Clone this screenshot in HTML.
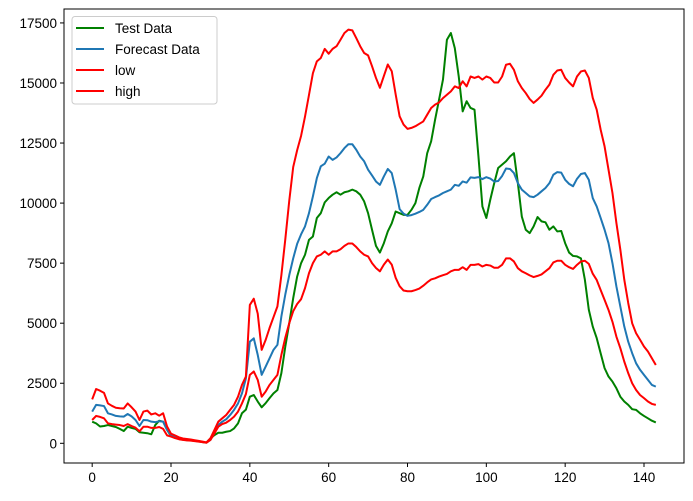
<!DOCTYPE html>
<html><head><meta charset="utf-8"><style>
html,body{margin:0;padding:0;background:#fff;}
svg text{font-family:"Liberation Sans","DejaVu Sans",sans-serif;font-size:13.5px;fill:#000;}
</style></head><body>
<svg id="chart" width="693" height="496" viewBox="0 0 693 496" xmlns="http://www.w3.org/2000/svg">
<rect width="693" height="496" fill="#fff"/>
<g id="lines"></g>
<g id="axes"></g>
<g id="legend">
<rect x="72" y="16.5" width="145" height="87.5" rx="3" fill="#fff" fill-opacity="0.8" stroke="#ccc"/>
<line x1="76" y1="28" x2="104" y2="28" stroke="green" stroke-width="2"/>
<text x="115" y="33">Test Data</text>
<line x1="76" y1="49" x2="104" y2="49" stroke="#1f77b4" stroke-width="2"/>
<text x="115" y="54">Forecast Data</text>
<line x1="76" y1="70" x2="104" y2="70" stroke="red" stroke-width="2"/>
<text x="115" y="75">low</text>
<line x1="76" y1="91" x2="104" y2="91" stroke="red" stroke-width="2"/>
<text x="115" y="96">high</text>
</g>
</svg>
<script>
const testData = [900,830,700,720,760,720,680,600,510,690,
640,600,460,440,420,375,760,940,900,560,
300,230,180,150,130,120,100,80,50,30,
200,340,440,440,480,510,620,830,1250,1400,
1940,2010,1740,1500,1670,1880,2080,2220,2920,4030,
5000,6040,6940,7500,7850,8470,8610,9380,9580,10030,
10210,10350,10450,10350,10450,10490,10560,10490,10350,10070,
9580,8890,8220,7940,8330,8820,9160,9650,9580,9510,
9510,9720,10000,10630,11110,12080,12570,13470,14300,15140,
16800,17080,16450,15270,13820,14240,13960,13890,11940,9860,
9380,10140,10830,11460,11600,11740,11940,12080,10830,9440,
8890,8750,9030,9420,9240,9200,8890,9030,8820,8840,
8330,7940,7800,7780,7700,6810,5560,4860,4380,3750,
3130,2780,2570,2290,1940,1740,1600,1420,1390,1250,
1140,1040,940,870];
const forecastData = [1320,1600,1580,1550,1250,1200,1140,1120,1110,1220,
1120,970,720,970,960,900,880,920,900,560,
330,260,200,170,150,130,110,90,60,30,
140,450,760,900,1000,1180,1390,1660,2080,2700,
4230,4370,3680,2850,3190,3540,3890,4100,5280,6200,
7000,7700,8300,8700,9030,9580,10280,11040,11530,11640,
11940,11800,11900,12080,12290,12450,12450,12220,11940,11740,
11390,11150,10900,10760,11110,11420,11250,10560,9750,9560,
9470,9500,9560,9630,9720,9930,10170,10250,10320,10420,
10490,10560,10760,10720,10900,10850,11070,11050,11080,11000,
11080,11020,10900,10920,11130,11440,11420,11250,10830,10560,
10420,10280,10250,10350,10490,10630,10830,11180,11290,11270,
10970,10800,10700,11010,11210,11250,10970,10210,9860,9380,
8890,8330,7500,6530,5690,4860,4230,3750,3330,3060,
2850,2640,2430,2360];
const lowData = [970,1140,1100,1040,830,800,780,760,720,800,
720,650,500,690,690,640,640,680,600,330,
280,220,170,140,120,110,90,70,50,25,
140,410,690,800,860,970,1110,1320,1660,2050,
2850,2990,2640,1940,2150,2430,2640,2850,3680,4400,
5000,5500,5800,6000,6460,7080,7500,7780,7850,7990,
7850,7990,7990,8080,8220,8320,8320,8170,7990,7850,
7780,7500,7300,7160,7440,7650,7440,6890,6540,6360,
6330,6330,6380,6440,6560,6700,6820,6870,6940,7000,
7050,7160,7220,7220,7330,7220,7430,7430,7460,7360,
7430,7400,7310,7310,7430,7700,7700,7570,7290,7160,
7080,6990,6920,6970,7030,7160,7290,7530,7600,7600,
7430,7330,7260,7430,7570,7600,7470,7060,6800,6380,
5970,5550,5060,4440,3960,3400,2920,2500,2220,2010,
1880,1740,1640,1600];
const highData = [1830,2260,2190,2100,1660,1560,1480,1460,1450,1660,
1500,1320,970,1320,1360,1200,1250,1150,1250,700,
400,330,250,200,180,160,130,100,70,40,
210,550,900,1040,1180,1390,1600,1940,2430,2780,
5760,6020,5400,3890,4300,4800,5250,5700,7000,8500,
10100,11500,12200,12800,13600,14500,15410,15900,16040,16420,
16220,16420,16530,16800,17080,17220,17190,16870,16530,16250,
16150,15700,15210,14800,15290,15770,15490,14520,13610,13270,
13090,13130,13200,13300,13400,13680,13960,14100,14190,14370,
14510,14650,14860,14790,15070,14860,15270,15210,15270,15140,
15270,15210,15020,15020,15270,15760,15800,15550,15070,14790,
14580,14330,14170,14310,14470,14720,14930,15340,15520,15550,
15210,15020,14860,15270,15480,15520,15210,14380,13890,13060,
12360,11390,10420,9170,8060,6810,5840,5000,4580,4310,
4030,3820,3540,3260];
const xTicks = [0,20,40,60,80,100,120,140];
const yTicks = [0,2500,5000,7500,10000,12500,15000,17500];

const L=64,R=684,T=9,B=463, XMIN=-7.15,XMAX=150.15,YMIN=-820,YMAX=18080;
function xs(v){return L+(v-XMIN)/(XMAX-XMIN)*(R-L);}
function ys(v){return B-(v-YMIN)/(YMAX-YMIN)*(B-T);}
const NS='http://www.w3.org/2000/svg';
const gl=document.getElementById('lines');
function drawSeries(arr,color,name){
  const p=document.createElementNS(NS,'polyline');
  p.setAttribute('points',arr.map((v,i)=>xs(i).toFixed(2)+','+ys(v).toFixed(2)).join(' '));
  p.setAttribute('fill','none');p.setAttribute('stroke',color);p.setAttribute('stroke-width','2');
  p.setAttribute('stroke-linejoin','round');
  
  
  gl.appendChild(p);
}
drawSeries(testData,'green','test-data-line');
drawSeries(forecastData,'#1f77b4','forecast-data-line');
drawSeries(lowData,'red','low-line');
drawSeries(highData,'red','high-line');

const ga=document.getElementById('axes');
const frame=document.createElementNS(NS,'rect');
frame.setAttribute('x',L);frame.setAttribute('y',T);frame.setAttribute('width',R-L);frame.setAttribute('height',B-T);
frame.setAttribute('fill','none');frame.setAttribute('stroke','#000');frame.setAttribute('stroke-width','1');


ga.appendChild(frame);
xTicks.forEach(t=>{
  const x=xs(t);
  const ln=document.createElementNS(NS,'line');
  ln.setAttribute('x1',x);ln.setAttribute('x2',x);ln.setAttribute('y1',B);ln.setAttribute('y2',B+4);ln.setAttribute('stroke','#000');
  
  
  ga.appendChild(ln);
  const tx=document.createElementNS(NS,'text');
  tx.setAttribute('x',x);tx.setAttribute('y',B+19);tx.setAttribute('text-anchor','middle');tx.textContent=t;
  
  
  ga.appendChild(tx);
});
yTicks.forEach(t=>{
  const y=ys(t);
  const ln=document.createElementNS(NS,'line');
  ln.setAttribute('x1',L-4);ln.setAttribute('x2',L);ln.setAttribute('y1',y);ln.setAttribute('y2',y);ln.setAttribute('stroke','#000');
  
  
  ga.appendChild(ln);
  const tx=document.createElementNS(NS,'text');
  tx.setAttribute('x',L-7);tx.setAttribute('y',y+5);tx.setAttribute('text-anchor','end');tx.textContent=t;
  
  
  ga.appendChild(tx);
});
</script>
</body></html>
